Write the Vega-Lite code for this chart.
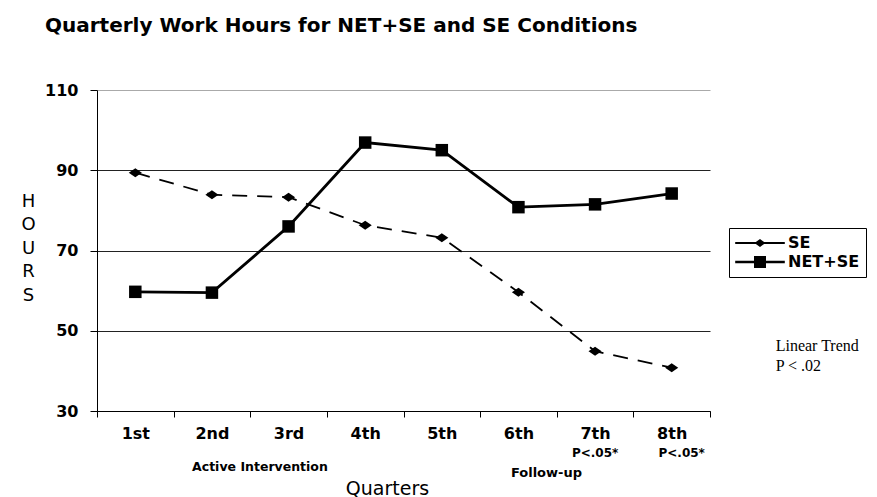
{
  "$schema": "https://vega.github.io/schema/vega-lite/v6.json",
  "width": 613,
  "height": 321,
  "autosize": {"type": "none"},
  "padding": {"left": 97, "top": 90, "right": 167, "bottom": 86},
  "background": "white",
  "config": {"view": {"stroke": null}, "font": "DejaVu Sans"},
  "title": {
    "text": "Quarterly Work Hours for NET+SE and SE Conditions",
    "anchor": "start",
    "frame": "group",
    "dx": -52,
    "offset": 30,
    "baseline": "alphabetic",
    "font": "DejaVu Sans",
    "fontSize": 20,
    "fontWeight": "bold",
    "color": "black"
  },
  "datasets": {
    "series": [
      {"q": "1st", "series": "SE", "hours": 89.4},
      {"q": "2nd", "series": "SE", "hours": 83.9},
      {"q": "3rd", "series": "SE", "hours": 83.3},
      {"q": "4th", "series": "SE", "hours": 76.3},
      {"q": "5th", "series": "SE", "hours": 73.2},
      {"q": "6th", "series": "SE", "hours": 59.6},
      {"q": "7th", "series": "SE", "hours": 44.9},
      {"q": "8th", "series": "SE", "hours": 40.8},
      {"q": "1st", "series": "NET+SE", "hours": 59.7},
      {"q": "2nd", "series": "NET+SE", "hours": 59.5},
      {"q": "3rd", "series": "NET+SE", "hours": 76.0},
      {"q": "4th", "series": "NET+SE", "hours": 96.9},
      {"q": "5th", "series": "NET+SE", "hours": 95.0},
      {"q": "6th", "series": "NET+SE", "hours": 80.8},
      {"q": "7th", "series": "NET+SE", "hours": 81.5},
      {"q": "8th", "series": "NET+SE", "hours": 84.2}
    ],
    "notes": [
      {"kind": "sig7", "q": "7th", "v": 19.5, "label": "P<.05*"},
      {"kind": "sig8", "q": "8th", "v": 19.5, "label": "P<.05*"},
      {"kind": "phase1", "q": "2nd", "v": 16.0, "label": "Active Intervention"},
      {"kind": "phase2", "q": "6th", "v": 14.5, "label": "Follow-up"},
      {"kind": "trend", "q": "8th", "v": 46.2, "label": "Linear Trend"},
      {"kind": "trend", "q": "8th", "v": 41.2, "label": "P < .02"}
    ]
  },
  "resolve": {"scale": {"shape": "independent"}, "legend": {"shape": "independent"}},
  "encoding": {
    "x": {
      "field": "q",
      "type": "ordinal",
      "sort": ["1st", "2nd", "3rd", "4th", "5th", "6th", "7th", "8th"],
      "scale": {"type": "band", "paddingInner": 0, "paddingOuter": 0},
      "axis": {
        "title": "Quarters",
        "titleFont": "DejaVu Sans",
        "titleFontSize": 19,
        "titleFontWeight": "normal",
        "titleColor": "black",
        "titleX": 290,
        "titleY": 77,
        "titleBaseline": "middle",
        "titleAlign": "center",
        "labelAngle": 0,
        "labelFont": "DejaVu Sans",
        "labelFontSize": 16,
        "labelFontWeight": "bold",
        "labelColor": "black",
        "labelPadding": 8,
        "tickBand": "extent",
        "tickSize": 6,
        "tickColor": "black",
        "domainColor": "black",
        "domainWidth": 1,
        "grid": false
      }
    },
    "y": {
      "field": "hours",
      "type": "quantitative",
      "scale": {"domain": [30, 110], "nice": false, "zero": false},
      "axis": {
        "title": ["H", "O", "U", "R", "S"],
        "titleAngle": 0,
        "titleX": -69,
        "titleY": 102,
        "titleBaseline": "top",
        "titleAlign": "center",
        "titleLineHeight": 23.5,
        "titleFont": "DejaVu Sans",
        "titleFontSize": 18,
        "titleFontWeight": "normal",
        "titleColor": "black",
        "values": [30, 50, 70, 90, 110],
        "labelFont": "DejaVu Sans",
        "labelFontSize": 16,
        "labelFontWeight": "bold",
        "labelColor": "black",
        "labelPadding": 12,
        "tickSize": 7,
        "tickColor": "black",
        "domainColor": "black",
        "grid": true,
        "gridColor": {"condition": {"test": "datum.value == 110", "value": "#aaaaaa"}, "value": "#222222"},
        "gridWidth": 1
      }
    }
  },
  "layer": [
    {
      "data": {"name": "series"},
      "transform": [{"filter": "datum.series === 'SE'"}],
      "mark": {"type": "line", "color": "black", "strokeWidth": 1.8, "strokeDash": [15, 10]},
      "encoding": {}
    },
    {
      "data": {"name": "series"},
      "transform": [{"filter": "datum.series === 'NET+SE'"}],
      "mark": {"type": "line", "color": "black", "strokeWidth": 2.8},
      "encoding": {}
    },
    {
      "data": {"name": "series"},
      "mark": {"type": "point", "filled": true, "color": "black", "opacity": 1, "size": 156},
      "encoding": {
        "shape": {
          "field": "series",
          "type": "nominal",
          "scale": {"domain": ["SE", "NET+SE"], "range": ["M-1.05,0L0,-0.72L1.05,0L0,0.72Z", "square"]},
          "legend": null
        }
      }
    },
    {
      "data": {"name": "series"},
      "mark": {"type": "point", "filled": true, "color": "black", "opacity": 0, "size": 256},
      "encoding": {
        "shape": {
          "field": "series",
          "type": "nominal",
          "scale": {"domain": ["SE", "NET+SE"], "range": ["M-3.1,-0.11H3.1V0.11H-3.1ZM-0.69,0L0,-0.5L0.69,0L0,0.5Z", "M-3.1,-0.17H3.1V0.17H-3.1ZM-0.75,-0.75H0.75V0.75H-0.75Z"]},
          "legend": {
            "title": null,
            "orient": "none",
            "legendX": 632,
            "legendY": 138,
            "strokeColor": "black",
            "fillColor": "white",
            "padding": 6,
            "symbolSize": 256,
            "symbolOffset": 16,
            "symbolOpacity": 1,
            "symbolFillColor": "black",
            "clipHeight": 18,
            "labelOffset": 19,
            "rowPadding": 1,
            "labelFont": "DejaVu Sans",
            "labelFontSize": 16,
            "labelFontWeight": "bold",
            "labelColor": "black"
          }
        }
      }
    },
    {
      "data": {"name": "notes"},
      "transform": [{"filter": "datum.kind === 'sig7'"}],
      "mark": {"type": "text", "font": "DejaVu Sans", "fontSize": 12, "fontWeight": "bold", "color": "black", "baseline": "middle", "dx": 0},
      "encoding": {"y": {"field": "v", "type": "quantitative"}, "text": {"field": "label"}}
    },
    {
      "data": {"name": "notes"},
      "transform": [{"filter": "datum.kind === 'sig8'"}],
      "mark": {"type": "text", "font": "DejaVu Sans", "fontSize": 12, "fontWeight": "bold", "color": "black", "baseline": "middle", "dx": 10},
      "encoding": {"y": {"field": "v", "type": "quantitative"}, "text": {"field": "label"}}
    },
    {
      "data": {"name": "notes"},
      "transform": [{"filter": "datum.kind === 'phase1'"}],
      "mark": {"type": "text", "font": "DejaVu Sans", "fontSize": 12.5, "fontWeight": "bold", "color": "black", "baseline": "middle", "dx": 48},
      "encoding": {"y": {"field": "v", "type": "quantitative"}, "text": {"field": "label"}}
    },
    {
      "data": {"name": "notes"},
      "transform": [{"filter": "datum.kind === 'phase2'"}],
      "mark": {"type": "text", "font": "DejaVu Sans", "fontSize": 13, "fontWeight": "bold", "color": "black", "baseline": "middle", "dx": 28},
      "encoding": {"y": {"field": "v", "type": "quantitative"}, "text": {"field": "label"}}
    },
    {
      "data": {"name": "notes"},
      "transform": [{"filter": "datum.kind === 'trend'"}],
      "mark": {"type": "text", "font": "Liberation Serif", "fontSize": 16, "color": "black", "baseline": "middle", "align": "left", "dx": 104},
      "encoding": {"y": {"field": "v", "type": "quantitative"}, "text": {"field": "label"}}
    }
  ]
}
